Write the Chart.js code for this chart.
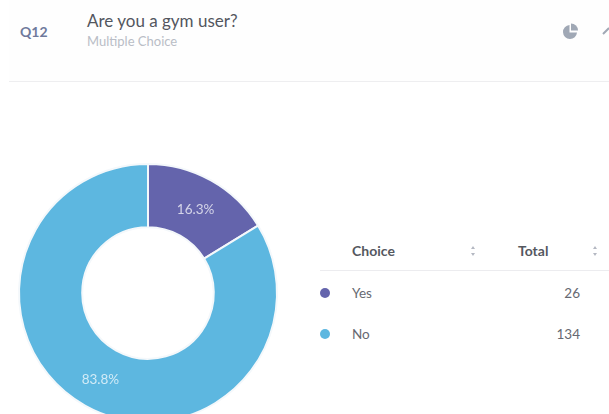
<!DOCTYPE html>
<html>
<head>
<meta charset="utf-8">
<title>Q12</title>
<script src="https://cdn.jsdelivr.net/npm/chart.js@4/dist/chart.umd.min.js"></script>
<style>
  html, body { margin: 0; padding: 0; background: #fff; }
  body { position: relative; width: 609px; height: 414px; overflow: hidden; font-family: Lato, sans-serif; }
  .abs { position: absolute; white-space: nowrap; line-height: 1; }
  #head { position: absolute; left: 9px; top: 0; width: 600px; height: 81px; background: #fefefe; border-bottom: 1px solid #eeeef0; }
  #qnum { left: 20px; top: 25px; font-size: 14px; font-weight: 700; color: #6f7a9c; }
  #title { left: 87px; top: 12px; font-size: 17px; color: #53565e; }
  #subtitle { left: 87px; top: 35px; font-size: 13px; color: #b9bdc6; }
  #chartBox { position: absolute; left: 0; top: 145px; width: 296px; height: 296px; }
  #rule { position: absolute; left: 320px; top: 270px; width: 289px; height: 1px; background: #ececef; }
  .th { font-size: 14px; font-weight: 700; color: #55585f; }
  .td { font-size: 13.5px; color: #666972; }
  .dot { position: absolute; width: 10px; height: 10px; border-radius: 50%; }
  .sort { position: absolute; }
</style>
</head>
<body>
<div id="head"></div>
<div class="abs" id="qnum">Q12</div>
<div class="abs" id="title">Are you a gym user?</div>
<div class="abs" id="subtitle">Multiple Choice</div>

<!-- chart type toggle icons -->
<svg class="abs" style="left:560px;top:20px" width="49" height="22" viewBox="0 0 49 22">
  <path d="M9.5 5 A7 7 0 1 0 17 12.5 L9.5 12.5 Z" fill="#a0a8b5"/>
  <path d="M11 3.5 A7 7 0 0 1 18 10.5 L11 10.5 Z" fill="#a0a8b5"/>
  <path d="M43 14 L49 8" stroke="#a0a8b5" stroke-width="2" fill="none"/>
</svg>

<div id="chartBox"><canvas id="myChart" width="296" height="296"></canvas></div>

<div class="abs th" style="left:352px;top:244px">Choice</div>
<div class="abs th" style="left:518px;top:244px">Total</div>
<svg class="sort" style="left:470px;top:245px" width="6" height="12"><path d="M3 1 L5 4 L1 4 Z M3 11 L5 8 L1 8 Z" fill="#b4b8c2"/></svg>
<svg class="sort" style="left:592px;top:245px" width="6" height="12"><path d="M3 1 L5 4 L1 4 Z M3 11 L5 8 L1 8 Z" fill="#b4b8c2"/></svg>
<div id="rule"></div>
<div id="rows"></div>

<script>
const categories = ['Yes', 'No'];
const totals = [26, 134];
const sliceColors = ['#6464ac', '#5db7e0'];

const rowTops = [287, 328];
const sum = totals.reduce((a, b) => a + b, 0);

// table rows on the right act as the legend
const rows = document.getElementById('rows');
categories.forEach((name, i) => {
  rows.insertAdjacentHTML('beforeend',
    `<div class="dot" style="left:320px;top:${rowTops[i] + 1}px;background:${sliceColors[i]}"></div>` +
    `<div class="abs td" style="left:352px;top:${rowTops[i]}px">${name}</div>` +
    `<div class="abs td" style="right:29px;top:${rowTops[i]}px">${totals[i]}</div>`);
});

// percent text in the middle of each slice
const sliceLabels = {
  id: 'sliceLabels',
  afterDatasetsDraw(chart) {
    const ctx = chart.ctx;
    ctx.save();
    ctx.font = '13.5px Lato, sans-serif';
    ctx.fillStyle = 'rgba(255,255,255,0.72)';
    ctx.textAlign = 'center';
    ctx.textBaseline = 'middle';
    chart.getDatasetMeta(0).data.forEach((arc, i) => {
      const pos = arc.tooltipPosition();
      ctx.fillText((totals[i] / sum * 100).toFixed(1) + '%', pos.x, pos.y + 2);
    });
    ctx.restore();
  }
};

var myChart = new Chart(document.getElementById('myChart'), {
  type: 'doughnut',
  data: {
    labels: categories,
    datasets: [{
      data: totals,
      backgroundColor: sliceColors,
      borderColor: '#f4f8fb',
      borderWidth: 2
    }]
  },
  options: {
    responsive: false,
    animation: false,
    cutout: '51%',
    layout: { padding: 18 },
    plugins: {
      legend: { display: false },
      tooltip: { enabled: false }
    }
  },
  plugins: [sliceLabels]
});
</script>
</body>
</html>
